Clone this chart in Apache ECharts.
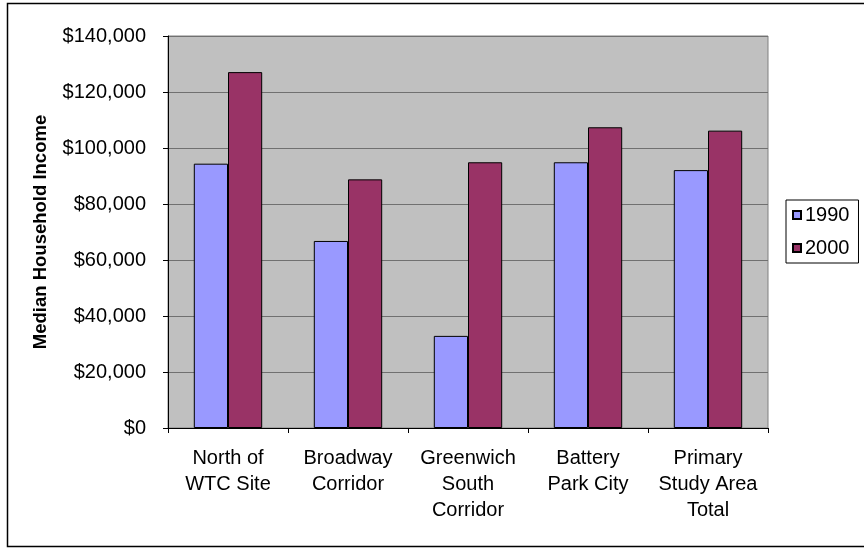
<!DOCTYPE html>
<html>
<head>
<meta charset="utf-8">
<script src="https://cdn.jsdelivr.net/npm/echarts@6/dist/echarts.min.js"></script>
<style>html,body{margin:0;padding:0;background:#fff}#c{width:864px;height:548px}</style>
</head>
<body>
<div id="c"></div>
<script>
var categories = ['North of\nWTC Site', 'Broadway\nCorridor', 'Greenwich\nSouth\nCorridor', 'Battery\nPark City', 'Primary\nStudy Area\nTotal'];
var income1990 = [94400, 66800, 32900, 94900, 92100];
var income2000 = [127100, 88800, 94900, 107400, 106200];
var seriesNames = ['1990', '2000'];
var yTitle = 'Median Household Income';

var FONT = '"Liberation Sans", Arial, sans-serif';
var chart = echarts.init(document.getElementById('c'), null, {renderer: 'canvas'});
chart.setOption({
  animation: false,
  backgroundColor: '#ffffff',
  textStyle: {fontFamily: FONT},
  graphic: [{
    type: 'rect', shape: {x: 7.5, y: 3.5, width: 870, height: 543},
    style: {fill: 'none', stroke: '#000', lineWidth: 1.5}, silent: true, z: -1
  }],
  grid: {left: 168, right: 96, top: 36, bottom: 120, show: true,
         backgroundColor: '#c0c0c0', borderColor: '#808080', borderWidth: 1},
  legend: {
    orient: 'vertical', left: 786, top: 200,
    data: seriesNames,
    borderColor: '#000', borderWidth: 1, backgroundColor: '#fff',
    padding: [5, 9, 5, 6], itemGap: 13, itemWidth: 8, itemHeight: 8,
    icon: 'rect',
    textStyle: {fontSize: 20, color: '#000', fontFamily: FONT, lineHeight: 20, padding: [0, 0, 0, -1]}
  },
  xAxis: {
    type: 'category', data: categories,
    axisLine: {lineStyle: {color: '#000', width: 1}},
    axisTick: {show: true, length: 5, lineStyle: {color: '#000'}},
    axisLabel: {fontSize: 20, color: '#000', lineHeight: 26, margin: 17, interval: 0, fontFamily: FONT}
  },
  yAxis: {
    type: 'value', min: 0, max: 140000, interval: 20000,
    name: yTitle, nameLocation: 'middle', nameGap: 118, nameRotate: 90,
    nameTextStyle: {fontSize: 18.5, fontWeight: 'bold', color: '#000', fontFamily: FONT},
    axisLine: {show: true, lineStyle: {color: '#000'}},
    axisTick: {show: true, length: 5, lineStyle: {color: '#000'}},
    splitLine: {lineStyle: {color: '#707070', width: 1}},
    axisLabel: {fontSize: 20, color: '#000', margin: 22, fontFamily: FONT,
      formatter: function (v) { return '$' + v.toLocaleString('en-US'); }}
  },
  series: [{
    name: seriesNames[0], type: 'bar', data: income1990,
    barGap: '0%', barCategoryGap: '43%',
    itemStyle: {color: '#9999ff', borderColor: '#000', borderWidth: 1}
  }, {
    name: seriesNames[1], type: 'bar', data: income2000,
    itemStyle: {color: '#993366', borderColor: '#000', borderWidth: 1}
  }]
});
</script>
</body>
</html>
